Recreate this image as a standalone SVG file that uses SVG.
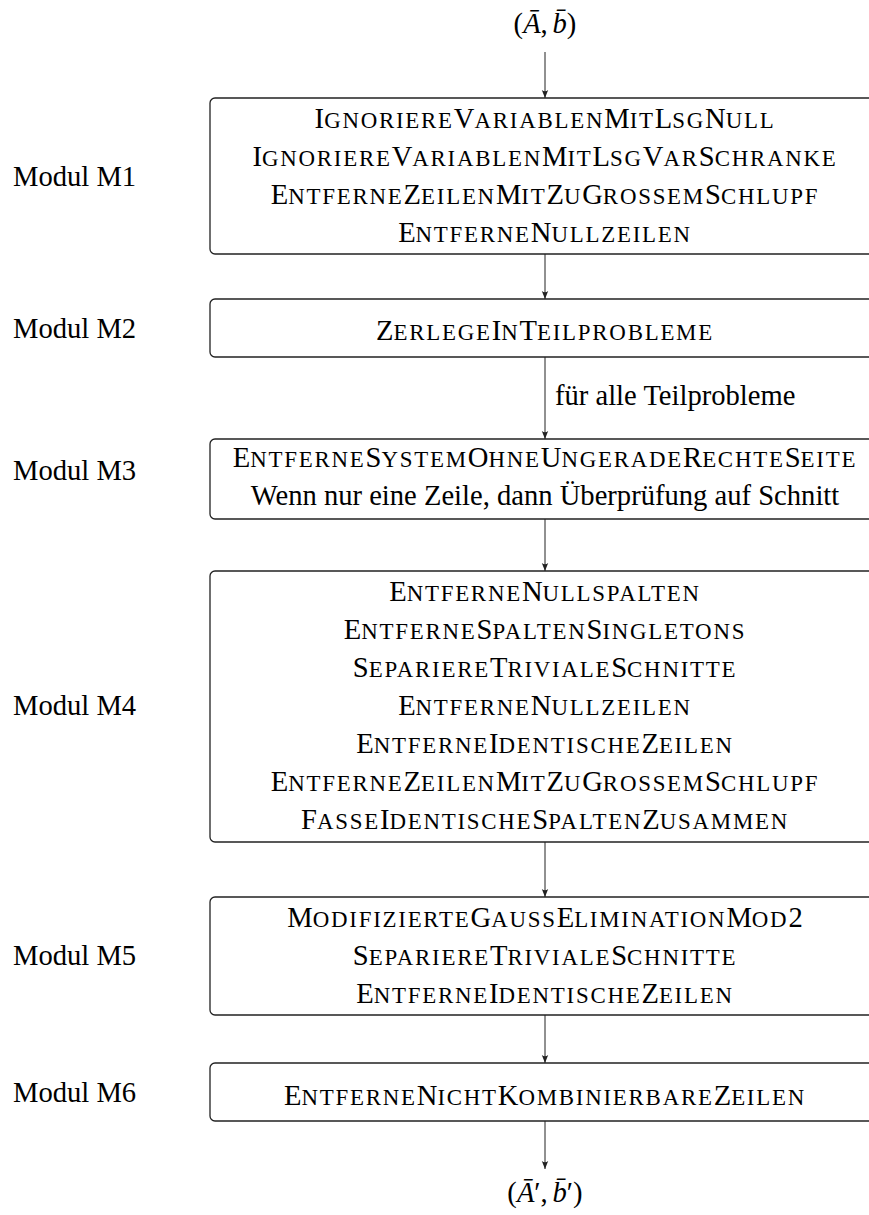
<svg xmlns="http://www.w3.org/2000/svg" width="869" height="1215" viewBox="0 0 869 1215">
  <style>
    text { font-family: "Liberation Serif", "Times New Roman", serif; font-size: 28.6px; fill: #000; }
    .c { text-anchor: middle; }
    .sc { font-size: 22.9px; letter-spacing: 1.75px; }
    .it { font-style: italic; }
    .box { fill: #fff; stroke: #222; stroke-width: 1.3; }
    .edge { stroke: #222; stroke-width: 1; fill: none; marker-end: url(#arrow); }
  </style>
  <defs>
    <marker id="arrow" markerUnits="userSpaceOnUse" markerWidth="12" markerHeight="10" viewBox="-10 -5 12 10" refX="0" refY="0" orient="auto">
      <path d="M0,0 L-8,-3.2 Q-5.5,0 -8,3.2 Z" fill="#222"/>
    </marker>
  </defs>
  <rect width="869" height="1215" fill="#fff"/>

  <!-- connectors -->
  <g id="connectors">
    <line class="edge" x1="545" y1="52" x2="545" y2="98"/>
    <line class="edge" x1="545" y1="254" x2="545" y2="299"/>
    <line class="edge" x1="545" y1="357" x2="545" y2="439"/>
    <line class="edge" x1="545" y1="519" x2="545" y2="571"/>
    <line class="edge" x1="545" y1="842" x2="545" y2="897"/>
    <line class="edge" x1="545" y1="1015" x2="545" y2="1063"/>
    <line class="edge" x1="545" y1="1121" x2="545" y2="1169"/>
    <text x="555" y="405">für alle Teilprobleme</text>
  </g>

  <!-- input and output -->
  <g id="input">
    <text class="c" x="545" y="33">(<tspan class="it">Ā</tspan>,<tspan class="it" dx="4.8">b̄</tspan>)</text>
  </g>
  <g id="output">
    <text class="c" x="545" y="1202">(<tspan class="it">Ā</tspan>′,<tspan class="it" dx="4.8">b̄</tspan>′)</text>
  </g>

  <!-- module M1 -->
  <g id="m1">
    <text x="13" y="186">Modul M1</text>
    <rect class="box" x="210" y="98" width="670" height="156" rx="5"/>
    <text class="c" x="545" y="128">I<tspan class="sc">GNORIERE</tspan>V<tspan class="sc">ARIABLEN</tspan>M<tspan class="sc">IT</tspan>L<tspan class="sc">SG</tspan>N<tspan class="sc">ULL</tspan></text>
    <text class="c" x="545" y="166">I<tspan class="sc">GNORIERE</tspan>V<tspan class="sc">ARIABLEN</tspan>M<tspan class="sc">IT</tspan>L<tspan class="sc">SG</tspan>V<tspan class="sc">AR</tspan>S<tspan class="sc">CHRANKE</tspan></text>
    <text class="c" x="545" y="204">E<tspan class="sc">NTFERNE</tspan>Z<tspan class="sc">EILEN</tspan>M<tspan class="sc">IT</tspan>Z<tspan class="sc">U</tspan>G<tspan class="sc">ROSSEM</tspan>S<tspan class="sc">CHLUPF</tspan></text>
    <text class="c" x="545" y="242">E<tspan class="sc">NTFERNE</tspan>N<tspan class="sc">ULLZEILEN</tspan></text>
  </g>

  <!-- module M2 -->
  <g id="m2">
    <text x="13" y="338">Modul M2</text>
    <rect class="box" x="210" y="299" width="670" height="58" rx="5"/>
    <text class="c" x="545" y="340">Z<tspan class="sc">ERLEGE</tspan>I<tspan class="sc">N</tspan>T<tspan class="sc">EILPROBLEME</tspan></text>
  </g>

  <!-- module M3 -->
  <g id="m3">
    <text x="13" y="480">Modul M3</text>
    <rect class="box" x="210" y="439" width="670" height="80" rx="5"/>
    <text class="c" x="545" y="467">E<tspan class="sc">NTFERNE</tspan>S<tspan class="sc">YSTEM</tspan>O<tspan class="sc">HNE</tspan>U<tspan class="sc">NGERADE</tspan>R<tspan class="sc">ECHTE</tspan>S<tspan class="sc">EITE</tspan></text>
    <text class="c" x="545" y="505">Wenn nur eine Zeile, dann Überprüfung auf Schnitt</text>
  </g>

  <!-- module M4 -->
  <g id="m4">
    <text x="13" y="715">Modul M4</text>
    <rect class="box" x="210" y="571" width="670" height="271" rx="5"/>
    <text class="c" x="545" y="601">E<tspan class="sc">NTFERNE</tspan>N<tspan class="sc">ULLSPALTEN</tspan></text>
    <text class="c" x="545" y="639">E<tspan class="sc">NTFERNE</tspan>S<tspan class="sc">PALTEN</tspan>S<tspan class="sc">INGLETONS</tspan></text>
    <text class="c" x="545" y="677">S<tspan class="sc">EPARIERE</tspan>T<tspan class="sc">RIVIALE</tspan>S<tspan class="sc">CHNITTE</tspan></text>
    <text class="c" x="545" y="715">E<tspan class="sc">NTFERNE</tspan>N<tspan class="sc">ULLZEILEN</tspan></text>
    <text class="c" x="545" y="753">E<tspan class="sc">NTFERNE</tspan>I<tspan class="sc">DENTISCHE</tspan>Z<tspan class="sc">EILEN</tspan></text>
    <text class="c" x="545" y="791">E<tspan class="sc">NTFERNE</tspan>Z<tspan class="sc">EILEN</tspan>M<tspan class="sc">IT</tspan>Z<tspan class="sc">U</tspan>G<tspan class="sc">ROSSEM</tspan>S<tspan class="sc">CHLUPF</tspan></text>
    <text class="c" x="545" y="829">F<tspan class="sc">ASSE</tspan>I<tspan class="sc">DENTISCHE</tspan>S<tspan class="sc">PALTEN</tspan>Z<tspan class="sc">USAMMEN</tspan></text>
  </g>

  <!-- module M5 -->
  <g id="m5">
    <text x="13" y="965">Modul M5</text>
    <rect class="box" x="210" y="897" width="670" height="118" rx="5"/>
    <text class="c" x="545" y="927">M<tspan class="sc">ODIFIZIERTE</tspan>G<tspan class="sc">AUSS</tspan>E<tspan class="sc">LIMINATION</tspan>M<tspan class="sc">OD</tspan>2</text>
    <text class="c" x="545" y="965">S<tspan class="sc">EPARIERE</tspan>T<tspan class="sc">RIVIALE</tspan>S<tspan class="sc">CHNITTE</tspan></text>
    <text class="c" x="545" y="1003">E<tspan class="sc">NTFERNE</tspan>I<tspan class="sc">DENTISCHE</tspan>Z<tspan class="sc">EILEN</tspan></text>
  </g>

  <!-- module M6 -->
  <g id="m6">
    <text x="13" y="1102">Modul M6</text>
    <rect class="box" x="210" y="1063" width="670" height="58" rx="5"/>
    <text class="c" x="545" y="1105">E<tspan class="sc">NTFERNE</tspan>N<tspan class="sc">ICHT</tspan>K<tspan class="sc">OMBINIERBARE</tspan>Z<tspan class="sc">EILEN</tspan></text>
  </g>
</svg>
